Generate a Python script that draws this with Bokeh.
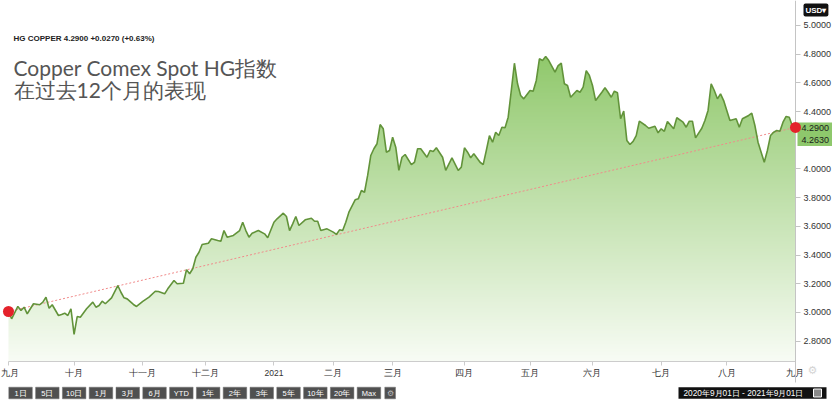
import numpy as np
from bokeh.plotting import figure
from bokeh.models import Range1d, FixedTicker, NumeralTickFormatter, Label, LinearAxis
from bokeh.layouts import column
from bokeh.embed import file_html
from bokeh.resources import INLINE

# --- data: HG copper daily closes, indexed by trading session from 2020-09-01 ---
sessions = [0, 1, 3, 4, 5, 6, 8, 10, 11, 12, 13, 14, 16, 17, 18, 19, 20, 21, 22, 23,
            25, 27, 28, 29, 30, 31, 33, 35, 36, 37, 38, 40, 41, 43, 45, 47, 48, 50, 51, 53,
            54, 56, 57, 58, 59, 60, 61, 62, 64, 65, 67, 68, 69, 70, 72, 74, 75, 76, 77, 78,
            80, 82, 83, 85, 86, 88, 89, 90, 91, 92, 93, 95, 97, 98, 99, 100, 102, 104, 105, 106,
            107, 108, 109, 111, 112, 113, 114, 115, 116, 117, 118, 119, 120, 121, 122, 123, 124, 125, 126, 127,
            129, 130, 131, 132, 134, 135, 136, 137, 139, 140, 142, 144, 145, 146, 147, 148, 149, 151, 152, 153,
            154, 155, 156, 157, 158, 159, 160, 161, 162, 163, 164, 165, 167, 168, 169, 170, 171, 172, 173, 175,
            176, 177, 178, 179, 180, 182, 183, 184, 185, 186, 187, 188, 190, 191, 192, 193, 194, 195, 196, 197,
            198, 199, 200, 201, 202, 204, 205, 207, 208, 209, 210, 211, 213, 214, 216, 217, 218, 219, 220, 222,
            223, 224, 225, 226, 227, 228, 229, 230, 231, 233, 234, 235, 237, 238, 239, 240, 242, 243, 244, 245,
            246, 247, 248, 249, 250, 251, 252]
prices = [3.007, 2.956, 3.042, 3.014, 3.037, 2.991, 3.061, 3.054, 3.072, 3.107, 3.030, 3.054, 2.979, 2.986, 2.995, 2.979, 3.026, 2.847, 2.972, 2.967,
          3.026, 3.072, 3.037, 3.049, 3.079, 3.061, 3.102, 3.188, 3.141, 3.102, 3.095, 3.056, 3.042, 3.077, 3.107, 3.148, 3.146, 3.130, 3.165, 3.223,
          3.200, 3.204, 3.298, 3.270, 3.305, 3.385, 3.420, 3.474, 3.483, 3.514, 3.502, 3.497, 3.571, 3.525, 3.537, 3.571, 3.629, 3.571, 3.525, 3.553,
          3.571, 3.548, 3.521, 3.629, 3.653, 3.692, 3.669, 3.571, 3.618, 3.669, 3.606, 3.646, 3.657, 3.636, 3.636, 3.571, 3.583, 3.560, 3.544, 3.576,
          3.571, 3.629, 3.699, 3.785, 3.792, 3.850, 3.838, 3.955, 4.094, 4.141, 4.176, 4.310, 4.280, 4.117, 4.129, 4.222, 4.152, 3.990, 4.082, 4.101,
          4.031, 4.047, 4.141, 4.141, 4.082, 4.129, 4.122, 4.148, 4.082, 3.990, 4.078, 3.990, 4.013, 4.148, 4.117, 4.078, 4.106, 4.047, 4.031, 4.129,
          4.233, 4.187, 4.256, 4.233, 4.291, 4.287, 4.361, 4.547, 4.737, 4.594, 4.512, 4.489, 4.547, 4.542, 4.617, 4.768, 4.756, 4.784, 4.756, 4.675,
          4.721, 4.737, 4.594, 4.582, 4.500, 4.547, 4.535, 4.570, 4.686, 4.652, 4.582, 4.477, 4.535, 4.566, 4.535, 4.500, 4.542, 4.531, 4.350, 4.403,
          4.199, 4.171, 4.192, 4.233, 4.333, 4.303, 4.284, 4.298, 4.252, 4.280, 4.263, 4.331, 4.280, 4.357, 4.326, 4.291, 4.333, 4.333, 4.217, 4.284,
          4.338, 4.408, 4.594, 4.547, 4.489, 4.524, 4.477, 4.408, 4.338, 4.350, 4.291, 4.350, 4.373, 4.389, 4.303, 4.187, 4.047, 4.129, 4.233, 4.256,
          4.268, 4.263, 4.326, 4.366, 4.361, 4.300, 4.290]

# first session of each month and its axis label
month_ticks = [0, 21, 43, 63, 85, 104, 123, 146, 167, 187, 209, 230, 252]
month_labels = ["九月", "十月", "十一月", "十二月", "2021", "二月", "三月",
                "四月", "五月", "六月", "七月", "八月", "九月"]
price_ticks = [2.8, 3.0, 3.2, 3.4, 3.6, 3.8, 4.0, 4.4, 4.6, 4.8, 5.0]

symbol = "HG COPPER"
last_price = 4.2900
prev_close = 4.2630
change = 0.0270
change_pct = 0.63
currency = "USD"
range_buttons = ["1日", "5日", "10日", "1月", "3月", "6月", "YTD",
                 "1年", "2年", "3年", "5年", "10年", "20年", "Max"]
date_span = "2020年9月01日 - 2021年9月01日"

# ranges: the frame covers the whole canvas; axes are pinned inside it
W, H = 832, 383
X0, X1 = -2.56, 263.85
YB, Y1 = 2.5052, 5.1742
Y_AXIS = 2.6585      # price level where the time axis sits
Y_LINE_END = 2.512   # lower end of the price axis line
SANS = "Liberation Sans"

p = figure(width=W, height=H, x_range=Range1d(X0, X1), y_range=Range1d(YB, Y1),
           x_axis_location=None, y_axis_location=None,
           output_backend="svg", toolbar_location=None, min_border=0)
p.outline_line_color = None
p.grid.visible = False
p.background_fill_color = "white"
p.border_fill_color = "white"

# vertical green gradient under the price curve
n = 256
t = np.linspace(0.0, 1.0, n)[:, None]
c_top = np.array([127, 192, 85])
c_bot = np.array([248, 252, 245])
rgb = (c_bot + (c_top - c_bot) * t).astype(np.uint8)
img = np.zeros((n, 1), dtype=np.uint32)
view = img.view(dtype=np.uint8).reshape((n, 1, 4))
view[:, 0, :3] = rgb
view[:, 0, 3] = 255
img_top = Y1 - 0.03
p.image_rgba(image=[img], x=sessions[0], y=Y_AXIS, dw=sessions[-1] - sessions[0], dh=img_top - Y_AXIS)

# white mask above the curve (run past the image edges so no seam shows)
mask_x = [X0 - 1] + sessions + [sessions[-1] + 0.5]
mask_y = [prices[0]] + prices + [prices[-1]]
p.varea(x=mask_x, y1=mask_y, y2=[Y1 + 1] * len(mask_x), fill_color="white")

# straight reference line from first to last close
p.line([sessions[0], sessions[-1]], [prices[0], prices[-1]],
       line_color="#f08a8a", line_width=1, line_dash="2 2")
p.line(sessions, prices, line_color="#62933a", line_width=1.6)

yax = LinearAxis(fixed_location=sessions[-1], bounds=(Y_LINE_END, Y1))
yax.ticker = FixedTicker(ticks=price_ticks)
yax.formatter = NumeralTickFormatter(format="0.0000")
yax.axis_line_color = "#c4c4c4"
yax.major_tick_line_color = "#c4c4c4"
yax.major_tick_in = 0
yax.major_tick_out = 5
yax.minor_tick_line_color = None
yax.major_label_standoff = 3
yax.major_label_text_font = SANS
yax.major_label_text_font_size = "9px"
yax.major_label_text_color = "#333333"
p.add_layout(yax, "right")

xax = LinearAxis(fixed_location=Y_AXIS, bounds=(sessions[0], sessions[-1]))
xax.ticker = FixedTicker(ticks=month_ticks)
xax.major_label_overrides = dict(zip(month_ticks, month_labels))
xax.axis_line_color = "#cccccc"
xax.major_tick_line_color = "#cccccc"
xax.major_tick_in = 0
xax.major_tick_out = 4
xax.minor_tick_line_color = None
xax.major_label_standoff = 2
xax.major_label_text_font = SANS
xax.major_label_text_font_size = "8.5px"
xax.major_label_text_color = "#333333"
p.add_layout(xax, "below")

# first and last close markers
p.scatter([sessions[0], sessions[-1]], [prices[0], prices[-1]],
          size=11, fill_color="#e4222b", line_color=None, level="overlay")

# header and title
p.add_layout(Label(x=13, y=H - 38, x_units="screen", y_units="screen",
                   text=f"{symbol} {last_price:.4f} +{change:.4f} (+{change_pct:.2f}%)",
                   text_font=SANS, text_font_size="8px", text_font_style="bold",
                   text_color="#222222", text_baseline="alphabetic"))
p.add_layout(Label(x=13, y=H - 67, x_units="screen", y_units="screen",
                   text="Copper Comex Spot HG指数", text_font="Lato",
                   text_font_size="21px", text_color="#555555", text_baseline="alphabetic"))
p.add_layout(Label(x=13, y=H - 89, x_units="screen", y_units="screen",
                   text="在过去12个月的表现", text_font="Lato",
                   text_font_size="21px", text_color="#555555", text_baseline="alphabetic"))

# currency selector
p.add_layout(Label(x=803, y=H - 9.5, x_units="screen", y_units="screen",
                   text=currency + "▾", text_font=SANS, text_font_size="8px",
                   text_font_style="bold", text_color="white", text_baseline="middle",
                   background_fill_color="#111111", padding=2, border_radius=2))

# last price / previous close tag on the axis
p.add_layout(Label(x=797, y=last_price, x_units="screen",
                   text=f"{last_price:.4f}\n{prev_close:.4f}", text_font=SANS,
                   text_font_size="9px", text_color="#1a1a1a", text_baseline="top",
                   text_line_height=1.15, y_offset=5,
                   background_fill_color="#8ec86c", padding=(4, 1)))

p.add_layout(Label(x=812, y=13, x_units="screen", y_units="screen", text="⚙",
                   text_font="DejaVu Sans", text_font_size="11px", text_color="#d4d4d4",
                   text_align="center", text_baseline="middle"))

# range selector strip
b = figure(width=W, height=24, x_range=Range1d(0, W), y_range=Range1d(24, 0),
           x_axis_location=None, y_axis_location=None,
           output_backend="svg", toolbar_location=None, min_border=0)
b.outline_line_color = None
b.grid.visible = False
b.background_fill_color = "white"
b.border_fill_color = "white"

bl = [8.3 + i * 26.8 for i in range(len(range_buttons))]
b.quad(left=bl, right=[v + 23.5 for v in bl], top=3.7, bottom=15.3,
       fill_color="#505050", line_color="#707070", line_width=0.5)
b.text(x=[v + 11.75 for v in bl], y=[9.7] * len(bl), text=range_buttons,
       text_color="white", text_font_size="7.5px", text_align="center",
       text_baseline="middle")
b.quad(left=[384.3], right=[395], top=3.7, bottom=15.3, fill_color="#505050", line_color="#707070", line_width=0.5)
b.text(x=[389.6], y=[9.7], text=["⚙"], text_color="#bbbbbb", text_font_size="8px",
       text_align="center", text_baseline="middle")

b.quad(left=[678], right=[826], top=3.7, bottom=15.3, fill_color="#111111", line_color=None)
b.text(x=[683], y=[9.7], text=[date_span], text_color="white", text_font_size="8.3px",
       text_align="left", text_baseline="middle")
b.quad(left=[813], right=[821], top=5.5, bottom=13.5, fill_color="#888888", line_color="white", line_width=1)

layout = column(p, b, spacing=0)
open("out.html", "w").write(file_html(layout, INLINE))
